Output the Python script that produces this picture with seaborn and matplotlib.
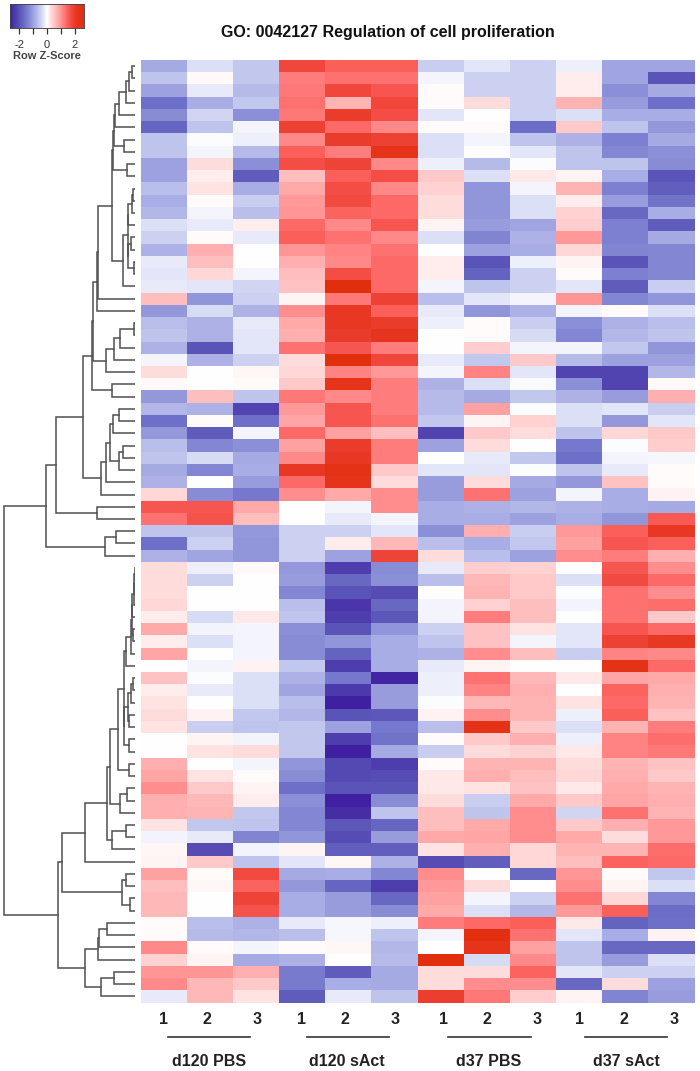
import numpy as np
import pandas as pd
import matplotlib
matplotlib.use("Agg")
import matplotlib.pyplot as plt
from matplotlib.colors import LinearSegmentedColormap
import seaborn as sns

W, H = 700, 1071

conditions = ["d120 PBS", "d120 sAct", "d37 PBS", "d37 sAct"]
replicates = ["1", "2", "3"]

# z-scores, one row per gene, top to bottom
rows_upper = [
    [-0.9, -0.3, -0.55, 1.8, 1.5, 1.5, -0.5, -0.25, -0.45, -0.15, -0.95, -0.95],
    [-0.6, 0.05, -0.55, 1.2, 1.3, 1.3, -0.1, -0.45, -0.45, 0.15, -0.95, -2.0],
    [-1.0, -0.2, -0.7, 1.25, 1.8, 1.6, 0.03, -0.45, -0.45, 0.15, -1.2, -0.9],
    [-1.6, -0.85, -0.55, 1.3, 0.7, 1.8, 0.03, 0.3, -0.45, 0.7, -1.05, -1.6],
    [-1.25, -0.4, -1.2, 1.25, 2.0, 1.7, -0.25, 0.0, -0.45, -0.3, -0.85, -0.85],
    [-1.75, -0.6, -0.1, 1.9, 1.4, 1.1, 0.03, 0.03, -1.65, 0.5, -0.6, -1.1],
    [-0.6, -0.03, -0.15, 1.1, 2.0, 1.9, -0.3, -0.1, -0.6, -0.8, -1.4, -0.9],
    [-0.6, -0.1, -0.7, 1.5, 1.2, 2.3, -0.3, -0.03, -0.25, -0.6, -1.3, -1.2],
    [-1.0, 0.3, -1.2, 1.7, 1.85, 1.1, -0.15, -0.7, -0.03, -0.6, -0.6, -1.25],
    [-1.0, 0.15, -1.9, 0.6, 1.5, 1.7, 0.5, -0.3, 0.2, 0.1, -0.85, -2.0],
    [-0.65, 0.25, -0.85, 0.8, 1.7, 1.1, 0.4, -1.15, -0.1, 0.7, -1.4, -1.85],
    [-0.85, 0.03, -0.5, 0.95, 1.75, 1.4, 0.3, -1.15, -0.3, 0.15, -1.05, -1.55],
    [-0.75, -0.1, -0.65, 1.0, 1.45, 1.4, 0.3, -1.15, -0.3, 0.4, -1.7, -0.85],
    [-0.3, -0.2, 0.15, 1.4, 1.1, 1.6, 0.1, -1.05, -0.95, 0.45, -1.4, -1.9],
    [-0.45, 0.03, -0.2, 1.5, 1.3, 1.1, -0.3, -1.35, -0.8, 0.95, -1.4, -0.9],
    [-0.8, 0.75, 0.0, 1.0, 1.15, 1.3, 0.0, -1.0, -0.85, 0.35, -1.35, -1.3],
    [-0.2, 0.6, 0.02, 0.75, 1.1, 1.4, 0.15, -2.0, -0.15, 0.1, -2.0, -1.3],
    [-0.25, 0.35, -0.1, 0.6, 1.7, 1.4, 0.15, -1.8, -0.45, 0.03, -1.4, -1.3],
    [-0.2, -0.25, -0.4, 0.55, 2.6, 1.4, -0.1, -0.6, -0.45, -0.25, -1.9, -0.5],
]
rows_middle = [
    [0.6, -1.15, -0.45, 0.1, 1.25, 1.9, -0.65, -0.25, -0.1, 1.0, -1.3, -1.15],
    [-1.1, -0.35, -0.8, 1.05, 2.1, 1.5, -0.2, -1.15, -0.8, -0.1, 0.03, -0.3],
    [-0.65, -0.8, -0.2, 0.8, 2.1, 2.0, -0.15, 0.03, -0.5, -1.2, -0.8, -0.65],
    [-0.6, -0.8, -0.25, 0.75, 2.0, 2.2, 0.0, 0.03, -0.35, -1.3, -0.75, -0.6],
    [-0.8, -2.0, -0.25, 1.3, 1.6, 1.2, -0.02, 0.45, -0.1, -0.1, -0.55, -1.15],
    [-0.1, -0.8, -0.45, 0.3, 2.6, 1.8, -0.2, -0.55, 0.5, -0.7, -1.0, -1.0],
    [0.3, 0.0, 0.08, 0.35, 1.15, 0.95, -0.1, 1.15, -0.25, -2.2, -2.2, -0.75],
    [0.05, 0.0, 0.03, 0.5, 2.3, 1.2, -0.8, -0.3, -0.05, -1.2, -2.2, 0.05],
    [-1.1, 0.6, -0.6, 1.25, 1.1, 1.2, -0.7, -0.9, -0.55, -0.8, -1.05, 0.75],
    [-0.75, -0.8, -2.2, 0.95, 1.6, 1.2, -0.7, 0.9, -0.03, -0.3, -0.25, -0.5],
    [-1.6, 0.03, -1.6, 0.85, 1.6, 1.3, -0.55, 0.1, 0.4, -0.3, -1.1, -0.25],
    [-1.1, -1.9, -0.1, 1.4, 0.9, 0.6, -2.2, 0.5, 0.3, -0.6, 0.35, 0.5],
    [-0.65, -1.3, -1.2, 0.9, 2.0, 1.2, -1.0, 0.3, 0.0, -1.5, -0.03, 0.45],
    [-0.6, -0.35, -0.9, 1.1, 2.1, 1.2, -0.02, -0.2, -0.55, -1.6, -0.1, -0.08],
    [-0.9, -1.3, -0.85, 2.1, 2.4, 0.5, -0.25, -0.25, -0.03, -0.6, -0.2, 0.03],
    [-0.8, 0.0, -1.05, 1.4, 2.3, 0.3, -1.05, 0.3, -0.9, -1.1, 0.55, 0.03],
    [0.35, -1.25, -1.5, 1.05, 0.8, 1.05, -1.05, 1.3, -1.0, -0.1, -0.85, 0.12],
    [1.6, 1.6, 0.8, 0.0, -0.1, 1.05, -0.85, -0.8, -0.75, -0.8, -0.85, -0.9],
    [1.3, 1.65, 0.6, 0.0, -0.2, -0.1, -0.85, -0.85, -1.0, -0.85, -1.15, 1.55],
    [-0.6, -0.6, -1.1, -0.45, -0.45, -0.25, -1.2, 0.75, -0.5, 0.95, 1.5, 2.1],
    [-1.6, -0.45, -1.15, -0.45, 0.15, 0.65, -0.65, -0.85, -0.55, 0.9, 1.6, 1.5],
    [-0.8, -0.95, -1.15, -0.45, -1.0, 1.85, 0.3, -0.65, -1.0, 1.05, 1.2, 0.75],
]
rows_lower = [
    [0.3, -0.15, 0.06, -1.1, -2.3, -1.25, -0.2, 0.45, 0.4, 0.02, 1.6, 1.05],
    [0.3, -0.45, 0.0, -1.05, -1.7, -1.2, -0.65, 0.65, 0.5, -0.3, 1.75, 1.4],
    [0.3, 0.0, -0.02, -1.3, -2.0, -2.1, 0.0, 0.7, 0.5, -0.03, 1.3, 1.05],
    [0.35, -0.02, -0.02, -0.65, -2.4, -1.7, -0.1, 0.4, 0.6, -0.12, 1.3, 1.35],
    [0.15, -0.35, 0.2, -0.6, -2.3, -1.95, -0.1, 1.2, 0.6, 0.02, 1.3, 0.5],
    [0.8, -0.12, -0.1, -1.2, -2.0, -1.15, -0.45, 0.55, 0.25, -0.25, 1.6, 1.4],
    [0.15, -0.3, -0.1, -1.25, -1.15, -0.85, -0.6, 0.55, -0.1, -0.25, 1.9, 2.1],
    [0.85, 0.0, -0.1, -1.25, -1.8, -0.85, -0.8, 1.05, 0.6, -0.5, 1.15, 1.1],
    [-0.02, -0.1, 0.12, -0.55, -2.3, -0.85, -0.2, 0.1, 0.02, 0.02, 2.4, 1.4],
    [0.55, -0.03, -0.3, -0.8, -1.5, -2.6, -0.15, 1.3, 0.65, 0.2, 0.85, 0.8],
    [0.15, -0.2, -0.3, -0.95, -2.35, -1.05, -0.15, 1.15, 0.75, 0.02, 1.45, 0.75],
    [0.25, -0.02, -0.3, -0.65, -2.7, -1.05, -0.03, 0.65, 0.7, 0.25, 1.4, 0.7],
    [0.3, 0.12, -0.55, -0.75, -2.0, -1.95, 0.12, 1.05, 0.7, -0.15, 1.5, 0.55],
    [0.25, -0.5, -0.6, -0.55, -1.0, -1.5, -0.65, 2.4, 0.5, -0.3, 0.7, 1.2],
    [-0.02, 0.1, -0.12, -0.55, -2.3, -1.55, 0.03, 0.5, 0.75, -0.15, 1.15, 1.35],
    [-0.02, 0.25, 0.3, -0.55, -2.7, -0.9, -0.5, 0.3, 0.4, 0.2, 1.15, 1.25],
    [0.75, -0.02, -0.1, -1.15, -2.15, -2.3, 0.03, 0.7, 0.7, 0.3, 0.7, 0.55],
    [0.85, 0.25, 0.03, -1.25, -2.15, -2.1, 0.2, 0.75, 0.6, 0.35, 0.75, 0.5],
]
rows_bottom = [
    [1.05, 0.5, 0.1, -1.6, -2.0, -2.0, 0.2, 0.25, 0.55, 0.2, 0.8, 0.7],
    [0.75, 0.65, 0.15, -1.2, -2.7, -1.25, 0.3, -0.5, 0.8, 0.5, 0.85, 0.75],
    [0.75, 0.7, -0.55, -1.3, -2.5, -0.6, 0.6, -0.6, 1.05, -0.4, 1.3, 0.7],
    [0.25, -0.55, -0.6, -1.3, -1.95, -1.75, 0.6, 0.8, 1.05, 0.5, 0.75, 0.95],
    [-0.12, -0.2, -1.35, -1.15, -2.1, -1.05, 0.8, 0.85, 1.05, 0.8, 0.3, 0.95],
    [0.08, -2.1, -0.12, 0.1, -1.85, -1.85, 0.25, 0.75, 0.35, 0.7, 0.7, 1.35],
    [0.1, 0.5, -0.6, -0.25, 0.08, -0.8, -2.1, -1.85, 0.35, 0.6, 1.45, 1.4],
    [0.9, 0.03, 1.75, -0.9, -0.85, -1.3, 1.05, 0.0, -1.7, 1.0, 0.03, -0.55],
    [0.6, 0.08, 1.45, -1.1, -1.75, -2.3, 0.95, 0.3, -0.02, 1.05, 0.1, -0.3],
    [0.65, 0.0, 1.85, -0.85, -1.05, -1.7, 0.9, -0.1, -0.45, 1.3, 0.35, -1.3],
    [0.65, 0.0, 1.65, -0.85, -1.05, -1.25, 0.8, -0.3, -0.75, 0.95, 1.5, -1.65],
    [0.03, -0.65, -0.8, -0.2, -0.08, -0.15, 1.2, 1.4, 1.5, 0.2, -1.8, -1.6],
    [0.03, -0.7, -0.75, -0.65, -0.08, -0.6, -0.1, 2.55, 1.3, -0.25, -0.85, 0.12],
    [1.1, 0.03, -0.1, 0.04, 0.08, -0.75, -0.02, 2.3, 0.9, -0.6, -1.7, -1.7],
    [0.4, 0.1, -0.9, -0.8, 0.02, -0.7, 2.6, -0.35, 1.1, -0.6, -1.05, -0.3],
    [1.0, 1.0, 0.75, -1.45, -1.9, -0.9, 0.3, 0.3, 1.45, -0.25, -0.45, -0.45],
    [1.1, 0.65, 0.5, -1.45, -0.85, -0.9, 0.3, 1.05, 1.05, -1.7, 0.3, -1.0],
    [-0.2, 0.65, 0.25, -1.9, -0.2, -0.6, 1.95, 1.25, 0.45, 0.1, -1.35, -1.05],
]

# dendrogram: (left, right, merge height), ints are row numbers
tree_a = (((((((0, 1, 2.7), 2, 6), 3, 9.3), 4, 16), 5, 20), (6, 7, 11), 21), (8, 9, 8), 22)
tree_b = ((((((10, 11, 2), 12, 3), 13, 7), ((14, 15, 4), (16, 17, 1.5), 7), 7.5), 18, 12))
tree_c = (((tree_a, tree_b, 23), 19, 37), 20, 38.5)
tree_d = ((((21, 22, 1.5), 23, 15), 24, 21), 25, 28.7)
tree_e = ((((tree_c, tree_d, 41.7), (26, 27, 22.7), 42.7)))
tree_f = ((((((28, 29, 16), 30, 22), (((31, 32, 12), 33, 16)), 24.7), 34, 28.7)), 35, 33.7)
tree_g = ((tree_e, tree_f, 52), (36, 37, 37.7), 78.7)
tree_h = ((38, 39, 19.3), 40, 30.3)
tree_i = (((((((41, 42, 0.5), 43, 1), 44, 1.5), 45, 3), (46, 47, 2), 3.5), 48, 4.5), 49, 9)
tree_j = ((((50, 51, 2), 52, 4.5), (53, 54, 6.3), 7), (55, 56, 6.3), 11.3)
tree_k = (((tree_i, tree_j, 11.5), (57, 58, 6), 16.7), (((59, 60, 8), 61, 14.7)), 24.7)
tree_l = ((tree_k, ((62, 63, 8.7), 64, 22.7), 28), 65, 50.3)
tree_m = (tree_l, ((66, 67, 8.7), (68, 69, 5.3), 12.7), 73)
tree_n = (((((70, 71, 27.7), 72, 36.3), 73, 37)), ((74, 75, 21), 76, 34.3), 50)
tree_root = ((tree_g, tree_h, 88.7), (tree_m, tree_n, 77), 131)

values = np.vstack([rows_upper, rows_middle, rows_lower, rows_bottom])
columns = [f"{c} {r}" for c in conditions for r in replicates]
df = pd.DataFrame(values, columns=columns)

Z_MAX = 2.68
stops = [
    (-2.68, "#3f20a0"), (-2.0, "#5a55b8"), (-1.6, "#6e70c8"), (-1.2, "#8c90d7"),
    (-0.9, "#a5a9e3"), (-0.55, "#c3c8ee"), (-0.3, "#dce0f6"), (0.0, "#ffffff"),
    (0.3, "#ffdcdc"), (0.6, "#ffbebe"), (0.9, "#ffa0a0"), (1.2, "#ff7d7d"),
    (1.5, "#fa5f5a"), (1.8, "#f0463c"), (2.1, "#e83723"), (2.68, "#e02d0a"),
]
cmap = LinearSegmentedColormap.from_list(
    "zscore", [((z + Z_MAX) / (2 * Z_MAX), c) for z, c in stops]
)


def px_axes(fig, left, top, right, bottom):
    return fig.add_axes([left / W, 1 - bottom / H, (right - left) / W, (bottom - top) / H])


def draw_node(ax, node):
    """Draws a subtree, returns (height, y) of its top."""
    if isinstance(node, (int, np.integer)):
        return 0.0, node + 0.5
    left, right, height = node
    h1, y1 = draw_node(ax, left)
    h2, y2 = draw_node(ax, right)
    ax.plot([h1, height, height, h2], [y1, y1, y2, y2], color="#505050", lw=1.1,
            solid_joinstyle="miter")
    return height, (y1 + y2) / 2


plt.rcParams["font.family"] = ["Liberation Sans", "DejaVu Sans"]
fig = plt.figure(figsize=(W / 100, H / 100), dpi=100)

ax = px_axes(fig, 140.5, 60, 694.5, 1002.5)
cax = px_axes(fig, 10, 4, 84, 28)
sns.heatmap(df, ax=ax, cmap=cmap, vmin=-Z_MAX, vmax=Z_MAX, cbar_ax=cax,
            cbar_kws={"orientation": "horizontal", "ticks": [-2, -1, 0, 1, 2]},
            xticklabels=False, yticklabels=False)
ax.set_xlabel("")
ax.set_ylabel("")

cax.set_xticklabels(["-2", "", "0", "", "2"], fontsize=8, color="#333333")
cax.tick_params(axis="x", length=4, width=0.9, color="#333333", pad=5)
for side in cax.spines.values():
    side.set_visible(True)
    side.set_color("#444444")
    side.set_linewidth(0.5)
fig.text(47 / W, 1 - 56 / H, "Row Z-Score", ha="center", va="center", fontsize=8,
         fontweight="bold", color="#444444")

# dendrogram shares the row scale of the heatmap, x unit is one pixel
dax = px_axes(fig, 0, 60, 135, 1002.5)
draw_node(dax, tree_root)
dax.set_xlim(135, 0)
dax.set_ylim(len(df), 0)
dax.axis("off")

fig.text(388 / W, 1 - 33 / H, "GO: 0042127 Regulation of cell proliferation",
         ha="center", va="center", fontsize=11.5, fontweight="bold", color="#111111")

# replicate numbers, group lines and group names under the heatmap
rep_x = [163, 207, 257, 301, 345, 395, 443, 487, 537, 580, 624, 674]
for x, name in zip(rep_x, replicates * 4):
    fig.text(x / W, 1 - 1019 / H, name, ha="center", va="center", fontsize=11.5,
             fontweight="bold", color="#222222")
group_lines = [(168, 250, 209), (306.5, 389, 347), (448, 531, 489), (585, 667, 626)]
for (x0, x1, xc), name in zip(group_lines, conditions):
    fig.add_artist(plt.Line2D([x0 / W, x1 / W], [1 - 1037 / H] * 2, color="#333333", lw=1.2))
    fig.text(xc / W, 1 - 1062 / H, name, ha="center", va="center", fontsize=11.5,
             fontweight="bold", color="#222222")

fig.savefig("out.png", dpi=100, facecolor="white")
plt.close(fig)
